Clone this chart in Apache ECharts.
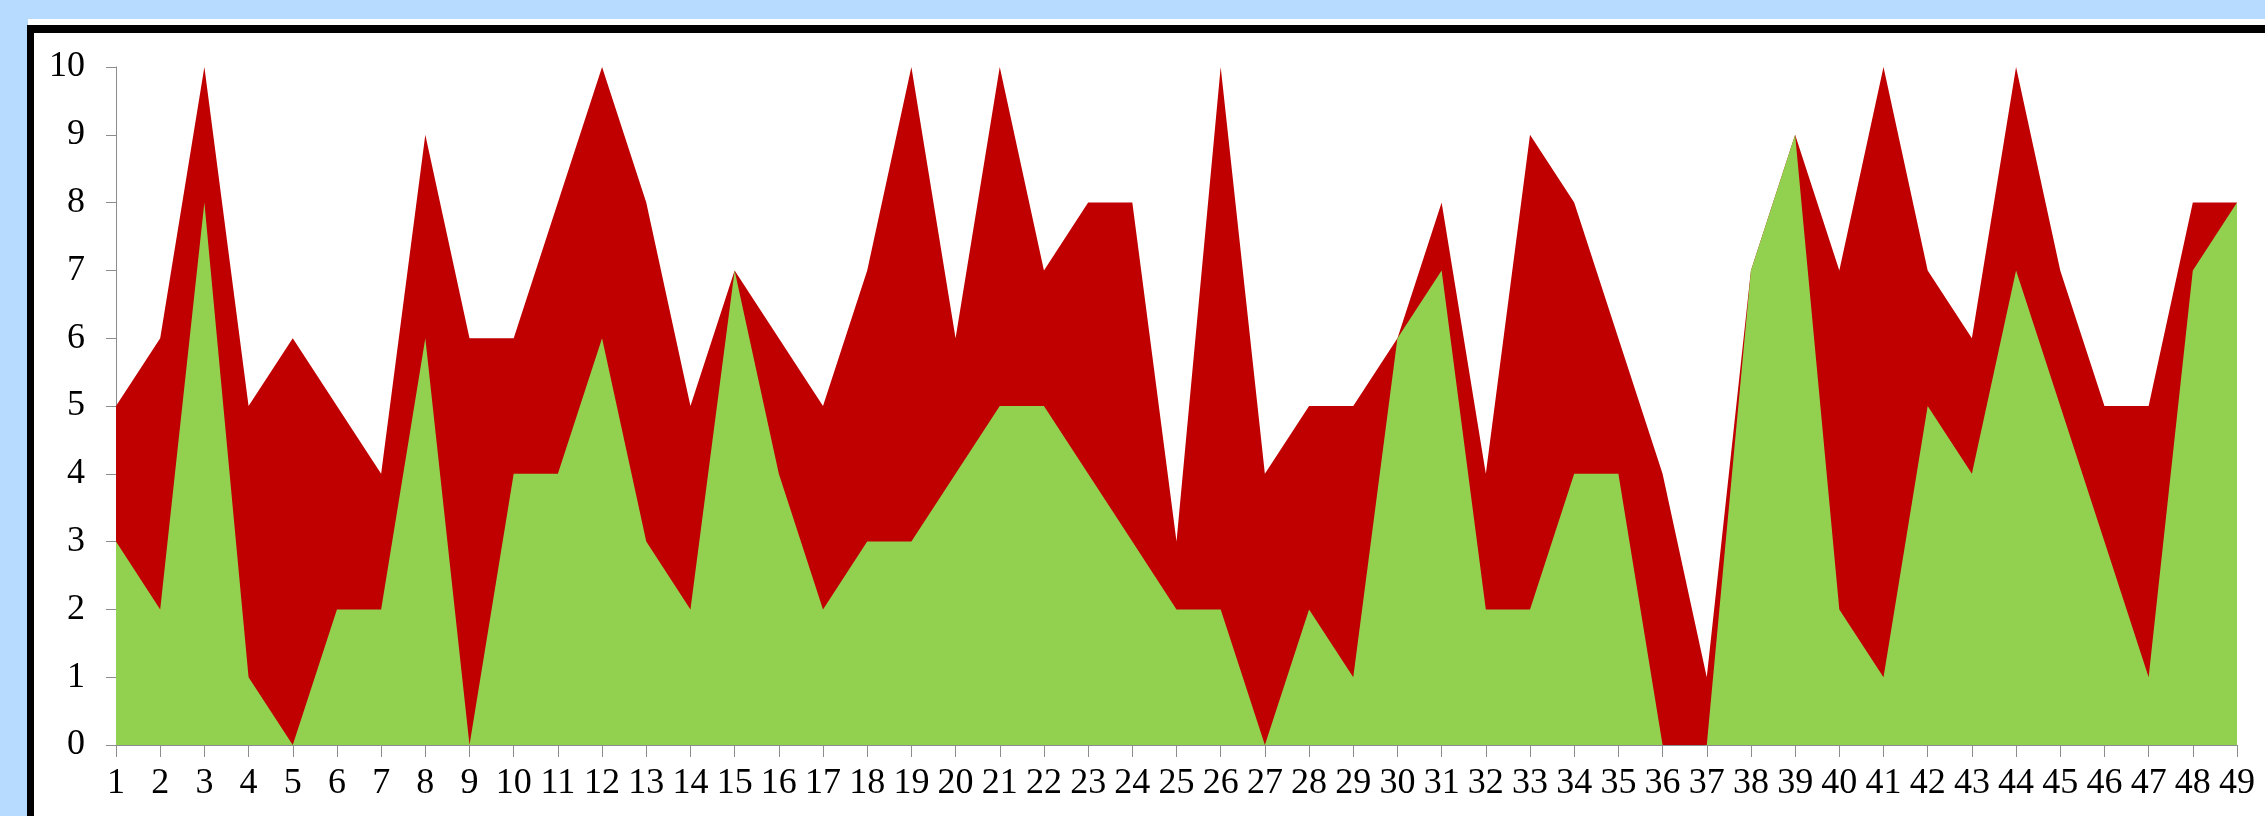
<!DOCTYPE html>
<html>
<head>
<meta charset="utf-8">
<script src="https://cdn.jsdelivr.net/npm/echarts@6/dist/echarts.min.js"></script>
<style>
    html, body { margin: 0; padding: 0; width: 2265px; height: 816px; overflow: hidden; background: #b7dbff; }
    #strip { position: absolute; left: 28px; top: 19px; width: 2300px; height: 6px; background: #fff; }
    #frame { position: absolute; left: 27px; top: 25px; width: 2300px; height: 900px; background: #fff;
             border-top: 8px solid #000; border-left: 7px solid #000; }
    #chart { position: absolute; left: 0; top: 0; width: 2265px; height: 816px; }
</style>
</head>
<body>
<div id="strip"></div>
<div id="frame"></div>
<div id="chart"></div>
<script>
var categories = [];
for (var i = 1; i <= 49; i++) categories.push(String(i));

// upper (red) area
var redValues = [5, 6, 10, 5, 6, 5, 4, 9, 6, 6, 8, 10, 8, 5, 7, 6, 5, 7, 10, 6,
    10, 7, 8, 8, 3, 10, 4, 5, 5, 6, 8, 4, 9, 8, 6, 4, 1, 7, 9, 7,
    10, 7, 6, 10, 7, 5, 5, 8, 8];
// lower (green) area
var greenValues = [3, 2, 8, 1, 0, 2, 2, 6, 0, 4, 4, 6, 3, 2, 7, 4, 2, 3, 3, 4,
    5, 5, 4, 3, 2, 2, 0, 2, 1, 6, 7, 2, 2, 4, 4, 0, 0, 7, 9, 2,
    1, 5, 4, 7, 5, 3, 1, 7, 8];
var yTicks = [0, 1, 2, 3, 4, 5, 6, 7, 8, 9, 10];

var init_areaChart = function () {
    var myChart = echarts.init(document.getElementById('chart'));
    var axisGray = '#8c8c8c';
    var font = '"Liberation Serif", "Times New Roman", serif';
    var option = {
        animation: false,
        backgroundColor: 'transparent',
        grid: { left: 116, right: 28, top: 67, bottom: 71 },
        xAxis: {
            type: 'category',
            data: categories,
            boundaryGap: false,
            axisLine: { lineStyle: { color: axisGray, width: 1 } },
            axisTick: { length: 12, lineStyle: { color: axisGray } },
            axisLabel: { color: '#000', fontFamily: font, fontSize: 36, margin: 21, interval: 0 }
        },
        yAxis: {
            type: 'value',
            min: yTicks[0],
            max: yTicks[yTicks.length - 1],
            interval: 1,
            splitLine: { show: false },
            axisLine: { show: true, lineStyle: { color: axisGray, width: 1 } },
            axisTick: { show: true, length: 10, lineStyle: { color: axisGray } },
            axisLabel: { color: '#000', fontFamily: font, fontSize: 36, margin: 31 }
        },
        series: [{
            name: 'red',
            type: 'line',
            data: redValues,
            showSymbol: false,
            lineStyle: { width: 0 },
            areaStyle: { color: '#c00000', opacity: 1 },
            z: 2
        }, {
            name: 'green',
            type: 'line',
            data: greenValues,
            showSymbol: false,
            lineStyle: { width: 0 },
            areaStyle: { color: '#92d050', opacity: 1 },
            z: 3
        }]
    };
    myChart.setOption(option);
};

init_areaChart();
</script>
</body>
</html>
